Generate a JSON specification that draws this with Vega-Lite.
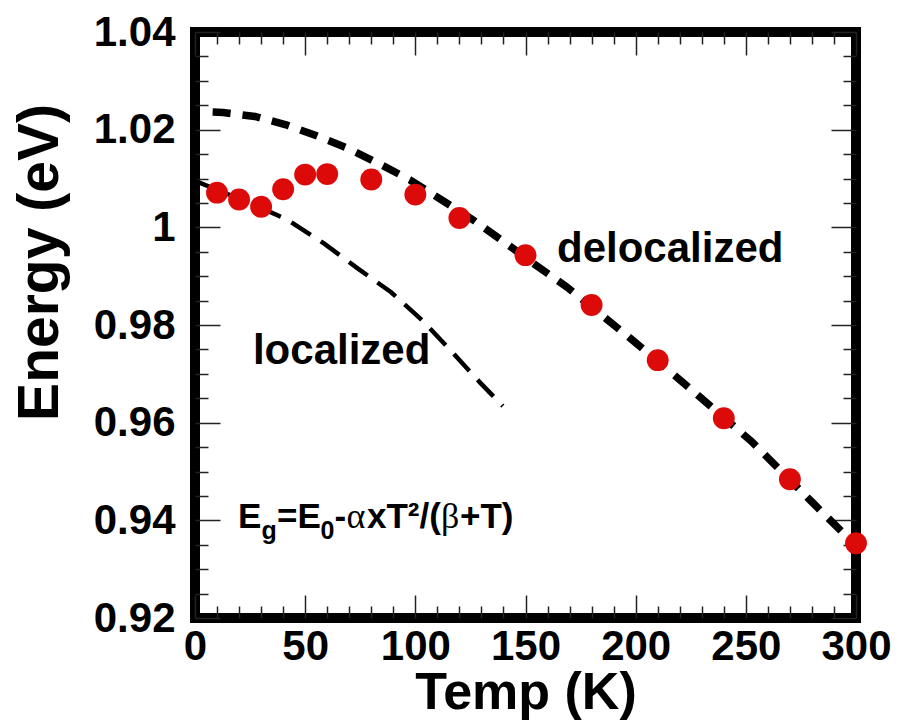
{
  "$schema": "https://vega.github.io/schema/vega-lite/v6.json",
  "width": 661,
  "height": 586,
  "autosize": "none",
  "padding": {"left": 195, "top": 32, "right": 43, "bottom": 107},
  "background": "white",
  "config": {
    "view": {"stroke": "black", "strokeWidth": 10},
    "font": "Liberation Sans"
  },
  "datasets": {
    "points": [
      {"T": 10, "E": 1.0071}, {"T": 20, "E": 1.0057}, {"T": 30, "E": 1.0042},
      {"T": 40, "E": 1.0078}, {"T": 50, "E": 1.0108}, {"T": 60, "E": 1.0109},
      {"T": 80, "E": 1.0098}, {"T": 100, "E": 1.0067}, {"T": 120, "E": 1.0019},
      {"T": 150, "E": 0.9943}, {"T": 180, "E": 0.9841}, {"T": 210, "E": 0.9728},
      {"T": 240, "E": 0.9609}, {"T": 270, "E": 0.9484}, {"T": 300, "E": 0.9353}
    ],
    "deloc": [
      {"T": 8, "E": 1.0236}, {"T": 12.8, "E": 1.0235}, {"T": 27.2, "E": 1.0227},
      {"T": 41.3, "E": 1.0210}, {"T": 55.5, "E": 1.0187}, {"T": 69.3, "E": 1.0162},
      {"T": 83.7, "E": 1.0130}, {"T": 97.6, "E": 1.0097}, {"T": 112, "E": 1.0056},
      {"T": 126.3, "E": 1.0015}, {"T": 140, "E": 0.9971}, {"T": 153.6, "E": 0.9926},
      {"T": 168.7, "E": 0.9878}, {"T": 196.7, "E": 0.9776}, {"T": 224.7, "E": 0.9670},
      {"T": 252.7, "E": 0.9561}, {"T": 280.6, "E": 0.9435}, {"T": 293.5, "E": 0.9377},
      {"T": 300, "E": 0.9347}
    ],
    "loc": [
      {"T": 0, "E": 1.0095}, {"T": 12.7, "E": 1.0072}, {"T": 25.4, "E": 1.0049},
      {"T": 42.2, "E": 1.0015}, {"T": 58.5, "E": 0.9967}, {"T": 73.8, "E": 0.9916},
      {"T": 89, "E": 0.9867}, {"T": 103.3, "E": 0.9809}, {"T": 116.4, "E": 0.9746},
      {"T": 129.4, "E": 0.9682}, {"T": 139.7, "E": 0.9634}
    ],
    "one": [{}]
  },
  "resolve": {"axis": {"x": "independent", "y": "independent"}},
  "layer": [
    {
      "data": {"name": "loc"},
      "mark": {"type": "line", "color": "black", "strokeWidth": 4.5, "strokeDash": [23, 12], "strokeCap": "butt"},
      "encoding": {
        "x": {"field": "T", "type": "quantitative", "scale": {"domain": [0, 300], "nice": false}, "axis": null},
        "y": {"field": "E", "type": "quantitative", "scale": {"domain": [0.92, 1.04], "nice": false, "zero": false}, "axis": null}
      }
    },
    {
      "data": {"name": "deloc"},
      "mark": {"type": "line", "color": "black", "strokeWidth": 7.5, "strokeDash": [18, 12], "strokeCap": "butt"},
      "encoding": {
        "x": {"field": "T", "type": "quantitative", "scale": {"domain": [0, 300], "nice": false},
          "axis": {"orient": "top", "values": [0,10,20,30,40,50,60,70,80,90,100,110,120,130,140,150,160,170,180,190,200,210,220,230,240,250,260,270,280,290,300],
            "labels": false, "title": null, "domain": false, "grid": false,
            "tickColor": "#222", "tickWidth": 1.5,
            "tickSize": {"condition": {"test": "datum.value % 50 === 0", "value": -23}, "value": -12}}},
        "y": {"field": "E", "type": "quantitative", "scale": {"domain": [0.92, 1.04], "nice": false, "zero": false},
          "axis": {"orient": "right", "values": [0.92,0.925,0.93,0.935,0.94,0.945,0.95,0.955,0.96,0.965,0.97,0.975,0.98,0.985,0.99,0.995,1.0,1.005,1.01,1.015,1.02,1.025,1.03,1.035,1.04],
            "labels": false, "title": null, "domain": false, "grid": false,
            "tickColor": "#222", "tickWidth": 1.5,
            "tickSize": {"condition": {"test": "round(datum.value*1000) % 20 === 0", "value": -25}, "value": -13}}}
      }
    },
    {
      "data": {"name": "points"},
      "mark": {"type": "circle", "color": "#dd0a0a", "opacity": 1, "size": 480},
      "encoding": {
        "x": {"field": "T", "type": "quantitative", "scale": {"domain": [0, 300], "nice": false},
          "axis": {"orient": "bottom", "values": [0,10,20,30,40,50,60,70,80,90,100,110,120,130,140,150,160,170,180,190,200,210,220,230,240,250,260,270,280,290,300],
            "labelExpr": "datum.value % 50 === 0 ? datum.label : ''",
            "labelFont": "Liberation Sans", "labelFontWeight": "bold", "labelFontSize": 42, "labelColor": "black",
            "labelFlush": false, "labelOverlap": false, "labelPadding": 31,
            "domain": false, "grid": false,
            "tickColor": "#222", "tickWidth": 1.5,
            "tickSize": {"condition": {"test": "datum.value % 50 === 0", "value": -23}, "value": -12},
            "title": "Temp (K)", "titleFont": "Liberation Sans", "titleFontWeight": "bold", "titleFontSize": 52, "titleColor": "black",
            "titleBaseline": "alphabetic", "titleY": 90}},
        "y": {"field": "E", "type": "quantitative", "scale": {"domain": [0.92, 1.04], "nice": false, "zero": false},
          "axis": {"orient": "left", "values": [0.92,0.925,0.93,0.935,0.94,0.945,0.95,0.955,0.96,0.965,0.97,0.975,0.98,0.985,0.99,0.995,1.0,1.005,1.01,1.015,1.02,1.025,1.03,1.035,1.04],
            "labelExpr": "round(datum.value*1000) % 20 === 0 ? format(datum.value, '.2~f') : ''",
            "labelFont": "Liberation Sans", "labelFontWeight": "bold", "labelFontSize": 42, "labelColor": "black",
            "labelFlush": false, "labelOverlap": false, "labelPadding": 45,
            "domain": false, "grid": false,
            "tickColor": "#222", "tickWidth": 1.5,
            "tickSize": {"condition": {"test": "round(datum.value*1000) % 20 === 0", "value": -25}, "value": -13},
            "title": "Energy (eV)", "titleFont": "Liberation Sans", "titleFontWeight": "bold", "titleFontSize": 57, "titleColor": "black",
            "titleAngle": -90, "titleBaseline": "middle", "titleX": -155, "titleY": 230}}
      }
    },
    {
      "data": {"name": "one"},
      "mark": {"type": "text", "font": "Liberation Sans", "fontWeight": "bold", "fontSize": 42, "align": "left", "baseline": "alphabetic", "color": "black"},
      "encoding": {"x": {"datum": 164.3, "type": "quantitative", "axis": null}, "y": {"datum": 0.9929, "type": "quantitative", "axis": null}, "text": {"value": "delocalized"}}
    },
    {
      "data": {"name": "one"},
      "mark": {"type": "text", "font": "Liberation Sans", "fontWeight": "bold", "fontSize": 42, "align": "left", "baseline": "alphabetic", "color": "black"},
      "encoding": {"x": {"datum": 26.3, "type": "quantitative", "axis": null}, "y": {"datum": 0.9720, "type": "quantitative", "axis": null}, "text": {"value": "localized"}}
    },
    {
      "data": {"name": "one"},
      "mark": {"type": "text", "font": "Liberation Sans", "fontWeight": "bold", "fontSize": 35, "align": "left", "baseline": "alphabetic", "color": "black"},
      "encoding": {"x": {"datum": 19.52, "type": "quantitative", "axis": null}, "y": {"datum": 0.93843, "type": "quantitative", "axis": null}, "text": {"value": "E"}}
    },
    {
      "data": {"name": "one"},
      "mark": {"type": "text", "font": "Liberation Sans", "fontWeight": "bold", "fontSize": 25, "align": "left", "baseline": "alphabetic", "color": "black"},
      "encoding": {"x": {"datum": 30.18, "type": "quantitative", "axis": null}, "y": {"datum": 0.93618, "type": "quantitative", "axis": null}, "text": {"value": "g"}}
    },
    {
      "data": {"name": "one"},
      "mark": {"type": "text", "font": "Liberation Sans", "fontWeight": "bold", "fontSize": 35, "align": "left", "baseline": "alphabetic", "color": "black"},
      "encoding": {"x": {"datum": 37.22, "type": "quantitative", "axis": null}, "y": {"datum": 0.93843, "type": "quantitative", "axis": null}, "text": {"value": "=E"}}
    },
    {
      "data": {"name": "one"},
      "mark": {"type": "text", "font": "Liberation Sans", "fontWeight": "bold", "fontSize": 25, "align": "left", "baseline": "alphabetic", "color": "black"},
      "encoding": {"x": {"datum": 56.96, "type": "quantitative", "axis": null}, "y": {"datum": 0.93618, "type": "quantitative", "axis": null}, "text": {"value": "0"}}
    },
    {
      "data": {"name": "one"},
      "mark": {"type": "text", "font": "Liberation Sans", "fontWeight": "bold", "fontSize": 35, "align": "left", "baseline": "alphabetic", "color": "black"},
      "encoding": {"x": {"datum": 63.31, "type": "quantitative", "axis": null}, "y": {"datum": 0.93843, "type": "quantitative", "axis": null}, "text": {"value": "-"}}
    },
    {
      "data": {"name": "one"},
      "mark": {"type": "text", "font": "Liberation Serif", "fontWeight": "normal", "fontSize": 36, "align": "left", "baseline": "alphabetic", "color": "black"},
      "encoding": {"x": {"datum": 68.76, "type": "quantitative", "axis": null}, "y": {"datum": 0.93843, "type": "quantitative", "axis": null}, "text": {"value": "α"}}
    },
    {
      "data": {"name": "one"},
      "mark": {"type": "text", "font": "Liberation Sans", "fontWeight": "bold", "fontSize": 35, "align": "left", "baseline": "alphabetic", "color": "black"},
      "encoding": {"x": {"datum": 78.06, "type": "quantitative", "axis": null}, "y": {"datum": 0.93843, "type": "quantitative", "axis": null}, "text": {"value": "xT²/("}}
    },
    {
      "data": {"name": "one"},
      "mark": {"type": "text", "font": "Liberation Serif", "fontWeight": "normal", "fontSize": 36, "align": "left", "baseline": "alphabetic", "color": "black"},
      "encoding": {"x": {"datum": 111.65, "type": "quantitative", "axis": null}, "y": {"datum": 0.93843, "type": "quantitative", "axis": null}, "text": {"value": "β"}}
    },
    {
      "data": {"name": "one"},
      "mark": {"type": "text", "font": "Liberation Sans", "fontWeight": "bold", "fontSize": 35, "align": "left", "baseline": "alphabetic", "color": "black"},
      "encoding": {"x": {"datum": 120.27, "type": "quantitative", "axis": null}, "y": {"datum": 0.93843, "type": "quantitative", "axis": null}, "text": {"value": "+T)"}}
    }
  ]
}
